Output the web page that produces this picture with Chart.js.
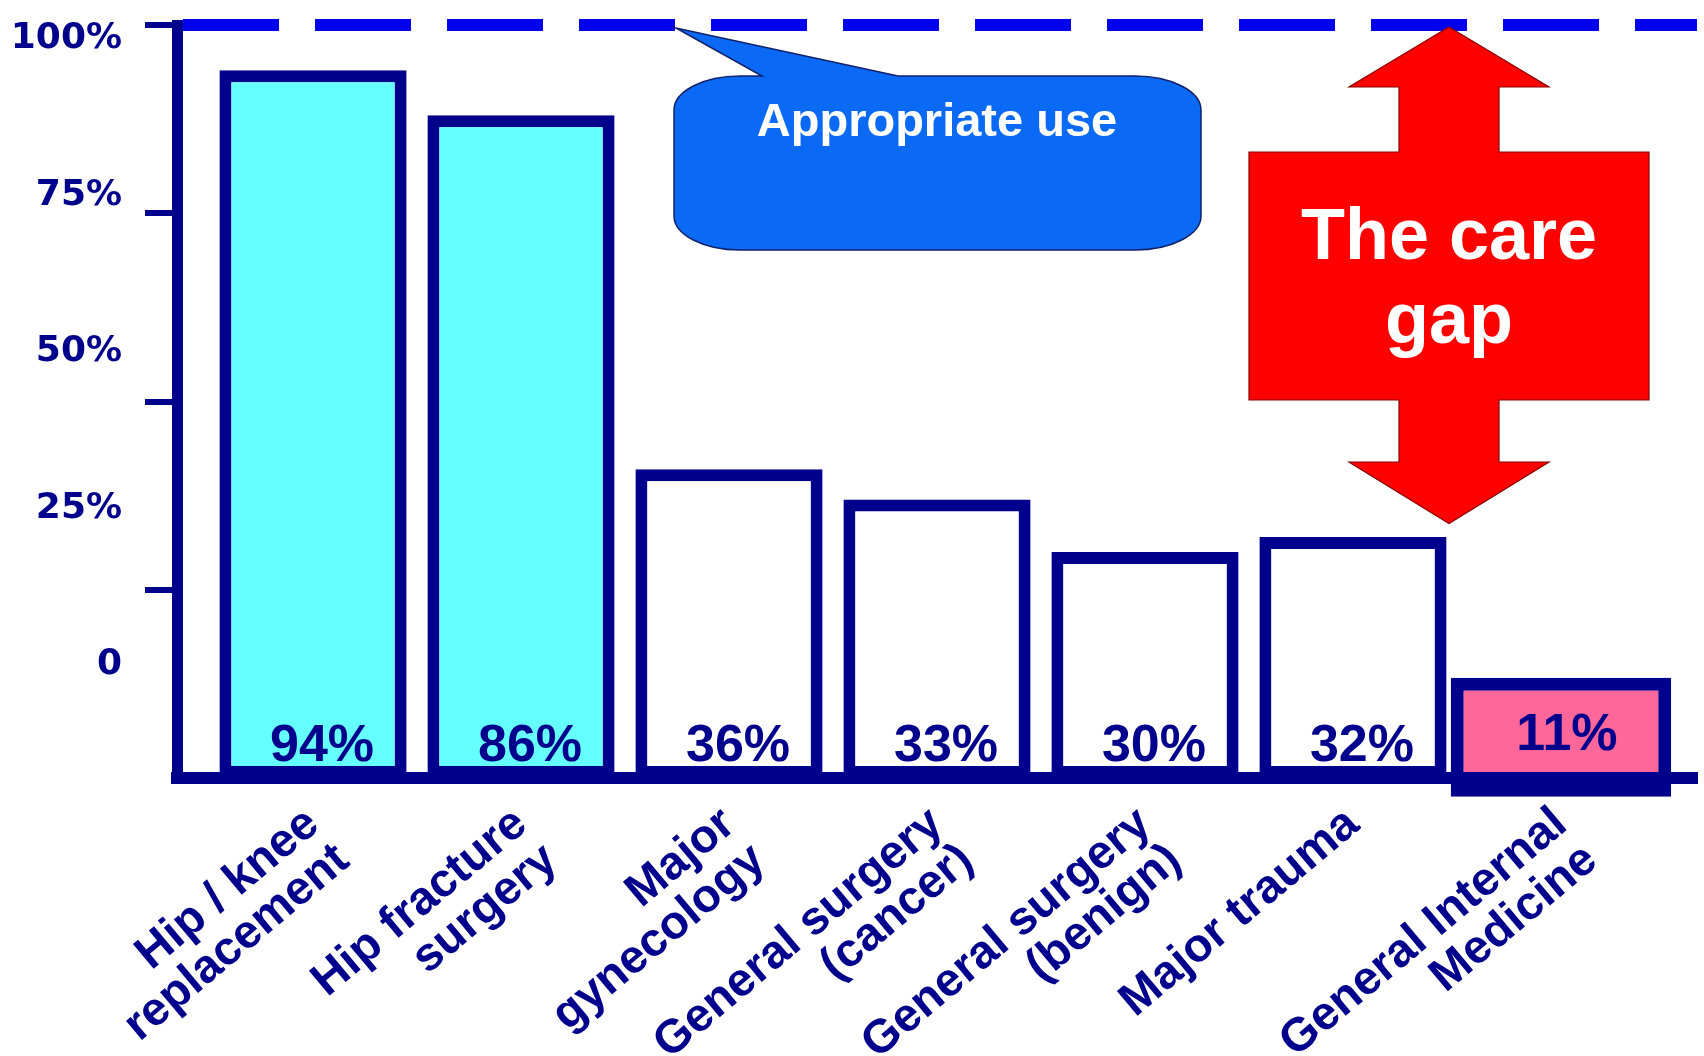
<!DOCTYPE html>
<html>
<head>
<meta charset="utf-8">
<title>The care gap</title>
<script src="https://cdn.jsdelivr.net/npm/chart.js@4.4.1/dist/chart.umd.min.js"></script>
<style>
  html, body { margin: 0; padding: 0; background: #fff; }
  #wrap { width: 1704px; height: 1056px; }
</style>
</head>
<body>
<div id="wrap"><canvas id="chart"></canvas></div>
<script>
// categories along the bottom (two-line labels)
const categories = [
  ['Hip / knee', 'replacement'],
  ['Hip fracture', 'surgery'],
  ['Major', 'gynecology'],
  ['General surgery', '(cancer)'],
  ['General surgery', '(benign)'],
  ['Major trauma'],
  ['General Internal', 'Medicine']
];
// bar heights as drawn against the axis (the slide's bars don't all match their printed numbers)
const barHeights = [94, 88, 41, 37, 30, 32];
// the General Internal Medicine box is drawn as a floating bar straddling the baseline
const gimRange = [-2.5, 13.3];
// numbers printed in the bars
const barLabels = ['94%', '86%', '36%', '33%', '30%', '32%', '11%'];
// y axis
const yTickValues = [0, 25, 50, 75, 100];
const yTickLabels = ['0', '25%', '50%', '75%', '100%'];

const NAVY = '#00008C';
const CYAN = '#66FFFF';
const PINK = '#FF6699';
const DASH_BLUE = '#0000EE';
const FONT = '"Liberation Sans", Arial, sans-serif';

const barText = {
  id: 'barText',
  afterDatasetsDraw(chart) {
    const ctx = chart.ctx;
    const base = chart.scales.y.getPixelForValue(0);
    ctx.save();
    ctx.fillStyle = NAVY;
    ctx.font = 'bold 52px ' + FONT;
    ctx.textAlign = 'center';
    ctx.textBaseline = 'alphabetic';
    chart.getDatasetMeta(0).data.forEach((bar, i) => {
      ctx.fillText(barLabels[i], bar.x + 9, base - 17);
    });
    chart.getDatasetMeta(1).data.forEach((bar, i) => {
      ctx.fillText(barLabels[barHeights.length + i], bar.x + 6, (bar.y + bar.base) / 2 + 13);
    });
    ctx.restore();
  }
};

// speech bubble + the red double arrow
const notes = {
  id: 'notes',
  afterDraw(chart) {
    const ctx = chart.ctx;
    const top = chart.scales.y.getPixelForValue(100);
    ctx.save();

    // "Appropriate use" bubble
    const L = 674, R = 1201, T = 76, B = 250, rx = 66, ry = 34;
    ctx.beginPath();
    ctx.moveTo(L + rx, T);
    ctx.lineTo(762, T);
    ctx.lineTo(676, top + 3);
    ctx.lineTo(898, T);
    ctx.lineTo(R - rx, T);
    ctx.ellipse(R - rx, T + ry, rx, ry, 0, -Math.PI / 2, 0);
    ctx.lineTo(R, B - ry);
    ctx.ellipse(R - rx, B - ry, rx, ry, 0, 0, Math.PI / 2);
    ctx.lineTo(L + rx, B);
    ctx.ellipse(L + rx, B - ry, rx, ry, 0, Math.PI / 2, Math.PI);
    ctx.lineTo(L, T + ry);
    ctx.ellipse(L + rx, T + ry, rx, ry, 0, Math.PI, Math.PI * 1.5);
    ctx.closePath();
    ctx.fillStyle = '#0A6AF5';
    ctx.fill();
    ctx.strokeStyle = '#10206A';
    ctx.lineWidth = 1.5;
    ctx.stroke();
    ctx.fillStyle = '#FFFFFF';
    ctx.font = 'bold 47px ' + FONT;
    ctx.textAlign = 'center';
    ctx.textBaseline = 'alphabetic';
    ctx.fillText('Appropriate use', 937, 136);

    // "The care gap" arrow
    const cx = 1449, bot = chart.scales.y.getPixelForValue(33.8);
    const pts = [
      [cx, top + 2], [cx + 100, 87], [cx + 50, 87], [cx + 50, 152], [cx + 200, 152],
      [cx + 200, 400], [cx + 50, 400], [cx + 50, 462], [cx + 100, 462], [cx, bot],
      [cx - 100, 462], [cx - 50, 462], [cx - 50, 400], [cx - 200, 400], [cx - 200, 152],
      [cx - 50, 152], [cx - 50, 87], [cx - 100, 87]
    ];
    ctx.beginPath();
    pts.forEach((p, i) => i ? ctx.lineTo(p[0], p[1]) : ctx.moveTo(p[0], p[1]));
    ctx.closePath();
    ctx.fillStyle = '#FF0000';
    ctx.fill();
    ctx.strokeStyle = '#8A0000';
    ctx.lineWidth = 1.2;
    ctx.stroke();
    ctx.fillStyle = '#FFFFFF';
    ctx.font = 'bold 72px ' + FONT;
    ctx.fillText('The care', cx, 259);
    ctx.fillText('gap', cx, 343);
    ctx.restore();
  }
};

new Chart(document.getElementById('chart'), {
  type: 'bar',
  data: {
    datasets: [
      {
        data: barHeights.map((v, i) => ({ x: i, y: v })),
        yAxisID: 'y',
        backgroundColor: c => c.dataIndex < 2 ? CYAN : '#FFFFFF',
        borderColor: NAVY,
        borderWidth: 12,
        borderSkipped: false,
        barPercentage: 0.9,
        categoryPercentage: 1,
        grouped: false
      },
      {
        data: [{ x: barHeights.length, y: gimRange }],
        yAxisID: 'y',
        backgroundColor: PINK,
        borderColor: NAVY,
        borderWidth: 13,
        borderSkipped: false,
        barPercentage: 1.06,
        categoryPercentage: 1,
        grouped: false,
        clip: false
      }
    ]
  },
  options: {
    responsive: true,
    maintainAspectRatio: false,
    animation: false,
    events: [],
    layout: { padding: { top: 25, right: 7, bottom: 0, left: 0 } },
    plugins: {
      legend: { display: false },
      tooltip: { enabled: false }
    },
    scales: {
      x: {
        type: 'linear',
        offset: false,
        min: -0.654,
        max: 6.654,
        afterBuildTicks: axis => { axis.ticks = categories.map((c, i) => ({ value: i })); },
        afterFit: axis => { axis.height = 278; },
        grid: { display: false, drawTicks: false },
        border: { color: NAVY, width: 12, z: 1 },
        ticks: {
          callback: v => categories[v],
          autoSkip: false,
          minRotation: 40,
          maxRotation: 40,
          padding: 22,
          color: NAVY,
          font: { family: FONT, size: 47, weight: 'bold', lineHeight: 1.0 }
        }
      },
      y: {
        type: 'linear',
        position: 'left',
        weight: 0,
        min: 0,
        max: 100,
        afterBuildTicks: axis => { axis.ticks = yTickValues.map(v => ({ value: v })); },
        afterFit: axis => { axis.width = 55; },
        grid: {
          color: c => (c.tick && c.tick.value === 100) ? DASH_BLUE : 'rgba(0,0,0,0)',
          lineWidth: c => (c.tick && c.tick.value === 100) ? 12 : 0,
          tickColor: c => (c.tick && c.tick.value === 0) ? 'rgba(0,0,0,0)' : NAVY,
          tickLength: 32,
          tickWidth: 6,
          tickBorderDash: []
        },
        border: { color: NAVY, width: 11, dash: [96, 36] },
        ticks: { display: false, padding: 0 }
      },
      yl: {
        type: 'linear',
        position: 'left',
        weight: 1,
        min: 0,
        max: 100,
        // the slide's labels sit higher than their tick marks, evenly spaced
        afterBuildTicks: axis => { axis.ticks = yTickLabels.map((t, i) => ({ value: 15 + i * 20.8 })); },
        afterFit: axis => { axis.width = 122; },
        grid: { display: false, drawTicks: false },
        border: { display: false },
        ticks: {
          callback: (v, i) => yTickLabels[i],
          autoSkip: false,
          padding: 0,
          color: NAVY,
          font: { family: '"DejaVu Sans", Verdana, sans-serif', size: 36, weight: 'bold' }
        }
      }
    }
  },
  plugins: [barText, notes]
});
</script>
</body>
</html>
